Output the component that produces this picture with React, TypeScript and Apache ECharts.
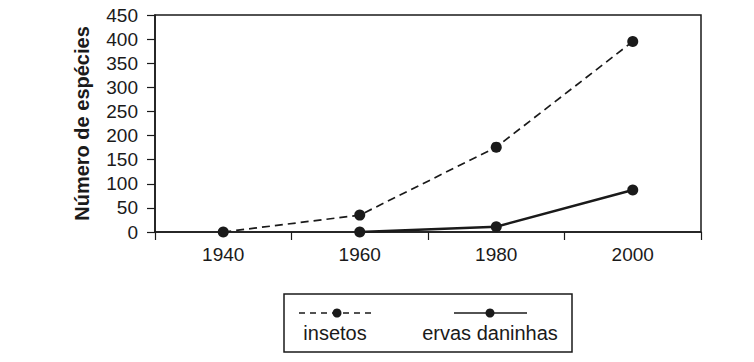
import React, { useEffect, useRef } from "react";
import * as echarts from "echarts";

const years = ["1940", "1960", "1980", "2000"];
const insetos = [0, 35, 176, 395];
const ervas = [null, 0, 11, 87];
const yTicks = { min: 0, max: 450, interval: 50 };
const legendNames = ["insetos", "ervas daninhas"];
const yName = "Número de espécies";

const INK = "#1a1a1a";
const FONT = "'Liberation Sans', Arial, sans-serif";

export default function App() {
  const ref = useRef<HTMLDivElement>(null);
  useEffect(() => {
    if (!ref.current) return;
    const chart = echarts.init(ref.current, undefined, { renderer: "svg" });
    chart.setOption({
      animation: false,
      backgroundColor: "#ffffff",
      textStyle: { fontFamily: FONT },
      grid: {
        left: 155,
        right: 53,
        top: 15,
        bottom: 130,
        show: true,
        borderColor: INK,
        borderWidth: 1.5,
        containLabel: false,
      },
      xAxis: {
        type: "category",
        data: years,
        boundaryGap: true,
        axisLine: { lineStyle: { color: INK, width: 1.5 } },
        axisTick: { show: true, length: 8, inside: false, lineStyle: { color: INK, width: 1.2 } },
        axisLabel: { color: INK, fontSize: 19, margin: 13, fontFamily: FONT },
        splitLine: { show: false },
      },
      yAxis: {
        type: "value",
        min: yTicks.min,
        max: yTicks.max,
        interval: yTicks.interval,
        name: yName,
        nameLocation: "middle",
        nameGap: 63,
        nameTextStyle: { color: INK, fontSize: 20, fontWeight: "bold", fontFamily: FONT },
        axisLine: { show: true, lineStyle: { color: INK, width: 1.5 } },
        axisTick: { show: true, length: 8, inside: false, lineStyle: { color: INK, width: 1.2 } },
        axisLabel: { color: INK, fontSize: 19, margin: 17, fontFamily: FONT },
        splitLine: { show: false },
      },
      series: [
        {
          name: legendNames[0],
          type: "line",
          data: insetos,
          symbol: "circle",
          symbolSize: 11,
          itemStyle: { color: INK },
          lineStyle: { color: INK, width: 1.7, type: [8, 5] },
        },
        {
          name: legendNames[1],
          type: "line",
          data: ervas,
          symbol: "circle",
          symbolSize: 11,
          itemStyle: { color: INK },
          lineStyle: { color: INK, width: 2.5, type: "solid" },
        },
      ],
      graphic: [
        {
          type: "rect",
          shape: { x: 284, y: 294, width: 288, height: 58 },
          style: { fill: "#fff", stroke: INK, lineWidth: 1.5 },
        },
        {
          type: "line",
          shape: { x1: 299, y1: 313, x2: 371, y2: 313 },
          style: { stroke: INK, lineWidth: 1.5, lineDash: [6, 5] },
        },
        { type: "circle", shape: { cx: 337, cy: 313, r: 4.5 }, style: { fill: INK } },
        {
          type: "line",
          shape: { x1: 454, y1: 313, x2: 527, y2: 313 },
          style: { stroke: INK, lineWidth: 1.5 },
        },
        { type: "circle", shape: { cx: 490, cy: 313, r: 4.5 }, style: { fill: INK } },
        {
          type: "text",
          x: 335,
          y: 333,
          style: {
            text: legendNames[0],
            fill: INK,
            font: `20px ${FONT}`,
            textAlign: "center",
            textVerticalAlign: "middle",
          },
        },
        {
          type: "text",
          x: 490,
          y: 333,
          style: {
            text: legendNames[1],
            fill: INK,
            font: `20px ${FONT}`,
            textAlign: "center",
            textVerticalAlign: "middle",
          },
        },
      ],
    });
    return () => chart.dispose();
  }, []);
  return (
    <div
      ref={ref}
      style={{ position: "fixed", left: 0, top: 0, width: 754, height: 362, background: "#fff" }}
    />
  );
}
